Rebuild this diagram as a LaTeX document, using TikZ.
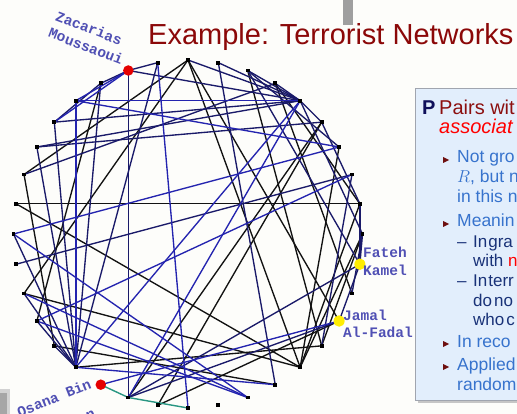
\documentclass[tikz,border=0pt]{standalone}
\usepackage{fontspec}
\setmainfont{Liberation Sans}
\newfontfamily\labmono{Liberation Mono}
\usetikzlibrary{shapes.geometric}
\definecolor{bgc}{RGB}{253,253,250}
\definecolor{titlered}{RGB}{139,8,8}
\definecolor{edgeN}{RGB}{26,26,105}
\definecolor{edgeB}{RGB}{36,36,175}
\definecolor{edgeK}{RGB}{18,18,18}
\definecolor{tealc}{RGB}{40,150,130}
\definecolor{labc}{RGB}{80,80,180}
\definecolor{panelfill}{RGB}{226,238,252}
\definecolor{panelline}{RGB}{160,165,175}
\definecolor{itemblue}{RGB}{55,115,205}
\definecolor{subblue}{RGB}{25,50,120}
\definecolor{bulred}{RGB}{110,15,15}
\definecolor{pnavy}{RGB}{15,15,90}
\definecolor{pred}{RGB}{140,15,15}
\pgfdeclarelayer{bot}
\pgfdeclarelayer{bg}
\pgfsetlayers{bot,bg,main}
\begin{document}
\begin{tikzpicture}[x=1pt,y=-1pt,
  sq/.style={fill=black,draw=none,minimum size=3.8pt,inner sep=0pt,rectangle},
  eK/.style={draw=edgeK,line width=1.35pt},
  eN/.style={draw=edgeN,line width=1.35pt},
  eB/.style={draw=edgeB,line width=1.35pt},
  eT/.style={draw=tealc,line width=1.4pt},
  reddot/.style={circle,fill=red!90!black,draw=none,minimum size=10.5pt,inner sep=0pt},
  yeldot/.style={ellipse,fill=yellow!95!orange,draw=none,minimum width=11pt,minimum height=11.5pt,inner sep=0pt},
  lab/.style={font=\labmono\bfseries\fontsize{14.5}{15}\selectfont,text=labc,inner sep=0pt},
  itm/.style={anchor=base west,inner sep=0pt,font=\fontsize{17.5}{20}\selectfont,text=itemblue},
  sub/.style={anchor=base west,inner sep=0pt,font=\fontsize{17}{20}\selectfont,text=subblue},
  bul/.style={fill=bulred}
]
\useasboundingbox (0,0) rectangle (517,414);
\clip (0,0) rectangle (517,414);
\begin{pgfonlayer}{bot}
\fill[bgc] (0,0) rectangle (517,414);
\end{pgfonlayer}

% top gray bar and bottom-left fragment
\fill[gray!75] (343,0) rectangle (353,25);
\fill[gray!35] (0,389) rectangle (10,414);
\fill[gray!70] (0,393) rectangle (7,414);

% title
\node[anchor=base west,inner sep=0pt,text=titlered,font=\fontsize{29}{30}\selectfont] (title) at (148,45) {Example: Terrorist Networks};

% graph nodes on a circle
\foreach \k in {0,...,35} {
  \node[sq] (n\k) at ({188+174.5*sin(10*\k)},{234-174*cos(10*\k)}) {};
}

\begin{pgfonlayer}{bg}
\foreach \a/\b in {28/8,28/14,0/29,0/14,0/12,8/14,9/13,19/12,23/15,25/0,22/13,5/19,11/3,
  2/13,14/9,14/6,25/14,29/23,33/24,3/8,5/20}
  \draw[eK] (n\a.center) -- (n\b.center);
\foreach \a/\b in {34/35,34/33,34/4,34/20,35/22,1/4,1/15,2/4,2/10,3/4,3/29,4/5,4/9,
  5/30,5/8,30/4,30/22,31/22,31/4,33/22,25/22,24/22,23/22,27/22,26/7,7/13,8/10,
  10/20,12/20,11/9,10/9,12/10,31/33,0/4,2/6}
  \draw[eN] (n\a.center) -- (n\b.center);
\foreach \a/\b in {32/4,32/6,32/22,34/32,34/31,35/18,4/22,4/20,27/16,27/6,25/16,24/16,
  24/7,12/21,22/15}
  \draw[eB] (n\a.center) -- (n\b.center);
\draw[eT] (n21.center) -- (n20.center) -- (n18.center);
\end{pgfonlayer}

% highlighted actors
\node[reddot] (zac) at (n34.center) {};
\node[reddot] (osa) at (n21.center) {};
\node[yeldot] (fat) at (n10.center) {};
\node[yeldot] (jam) at (n12.center) {};

% labels
\node[lab,rotate=-21] (zacl1) at (89,28) {Zacarias};
\node[lab,rotate=-21] (zacl2) at (86,46) {Moussaoui};
\node[lab,rotate=22] (osal1) at (54,398) {Osana Bin};
\node[lab,rotate=22] (osal2) at (74,421) {Laden};
\node[lab,anchor=base west] (fatl1) at (363,258) {Fateh};
\node[lab,anchor=base west] (fatl2) at (363,276) {Kamel};
\node[lab,anchor=base west] (jaml1) at (343,320) {Jamal};
\node[lab,anchor=base west] (jaml2) at (343,337) {Al-Fadal};

% text panel
\fill[gray!45] (418,91) rectangle (530,403);
\filldraw[fill=panelfill,draw=panelline,line width=0.8pt] (415,88) rectangle (530,400);
\node[anchor=base west,inner sep=0pt,text=pnavy,font=\bfseries\fontsize{20}{22}\selectfont] (pmark) at (422,115) {P};
\node[anchor=base west,inner sep=0pt,text=pred,font=\fontsize{20}{22}\selectfont] (pt1) at (439,115) {Pairs wit};
\node[anchor=base west,inner sep=0pt,text=red,font=\itshape\fontsize{20}{22}\selectfont] (pt2) at (439,134) {associat};

\fill[bul] (443,157) -- (449,160) -- (443,163) -- cycle;
\node[itm] (i1) at (457,163) {Not gro};
\node[itm] (i1b) at (457,183) {$R$, but n};
\node[itm] (i1c) at (457,203) {in this n};
\fill[bul] (443,221) -- (449,224) -- (443,227) -- cycle;
\node[itm] (i2) at (457,227) {Meanin};
\node[sub] (d1) at (457,248) {–};
\node[sub] (s1) at (473,248) {In\hspace{1pt}gra};
\node[sub] (s1b) at (473,267) {with \textcolor{red}{n}};
\node[sub] (d2) at (457,287) {–};
\node[sub] (s2) at (473,287) {In\hspace{1pt}terr};
\node[sub] (s2b) at (473,306) {do\hspace{2pt}no};
\node[sub] (s2c) at (473,325) {who\hspace{2pt}c};
\fill[bul] (443,341) -- (449,344) -- (443,347) -- cycle;
\node[itm] (i3) at (457,347) {In reco};
\fill[bul] (443,364) -- (449,367) -- (443,370) -- cycle;
\node[itm] (i4) at (457,370) {Applied};
\node[itm] (i4b) at (457,390) {random};
\end{tikzpicture}
\end{document}
